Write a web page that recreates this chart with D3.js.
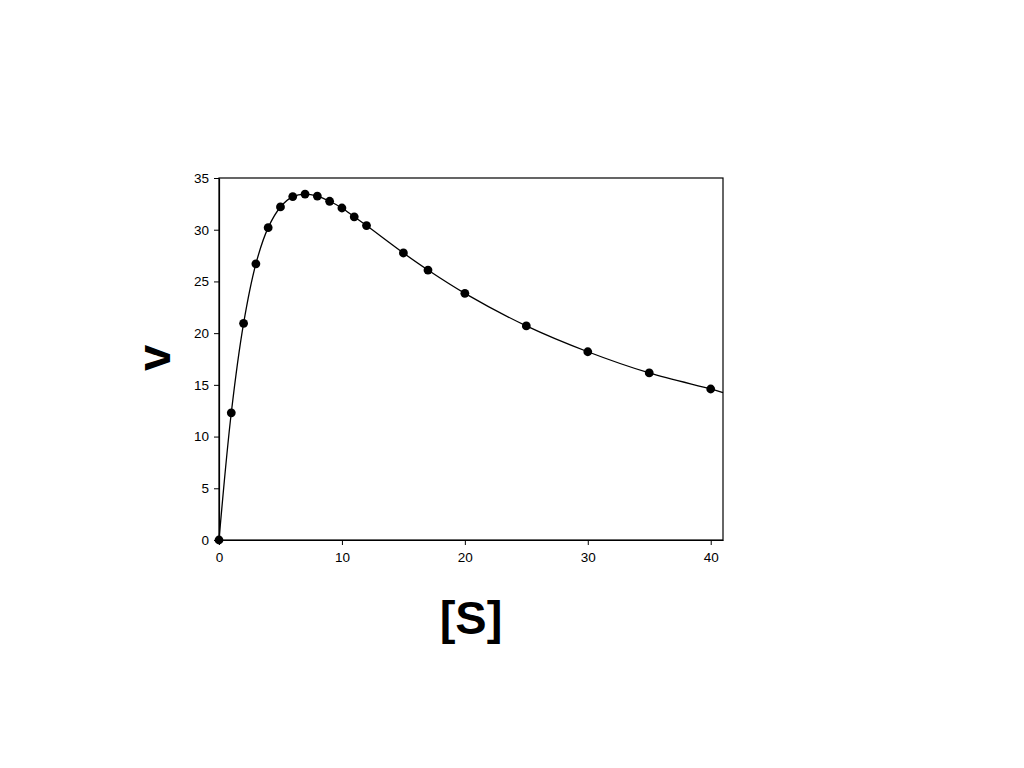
<!DOCTYPE html>
<html><head><meta charset="utf-8">
<script src="https://cdn.jsdelivr.net/npm/d3@7"></script>
<style>body{margin:0;background:#fff;} svg{display:block;}</style>
</head><body>
<svg id="chart" width="1024" height="768"></svg>
<script>
const substrate = [0,1,2,3,4,5,6,7,8,9,10,11,12,15,17,20,25,30,35,40];
const velocity  = [0,12.3,20.95,26.7,30.2,32.2,33.2,33.45,33.25,32.75,32.1,31.25,30.4,27.75,26.1,23.85,20.7,18.2,16.15,14.6];
// fitted curve continues to the right edge of the plot
const fitExtraX = [41];
const fitExtraY = [14.25];
const xTicks = [0,10,20,30,40];
const yTicks = [0,5,10,15,20,25,30,35];
const xTitle = "[S]";
const yTitle = "v";

const svg = d3.select("#chart");
const L = 219, R = 723, T = 178, B = 540;
const x = d3.scaleLinear().domain([0,41]).range([L,R]);
const y = d3.scaleLinear().domain([0,35]).range([B,T]);

const font = "'Liberation Sans', Arial, sans-serif";

// frame
svg.append("rect").attr("x",L).attr("y",T).attr("width",R-L).attr("height",B-T)
  .attr("fill","none").attr("stroke","#000").attr("stroke-width",1.2);

const xAxis = svg.append("g").attr("transform",`translate(0,${B})`)
  .call(d3.axisBottom(x).tickValues(xTicks).tickSize(5).tickSizeOuter(0).tickPadding(7));
const yAxis = svg.append("g").attr("transform",`translate(${L},0)`)
  .call(d3.axisLeft(y).tickValues(yTicks).tickSize(5).tickSizeOuter(0).tickPadding(5));
[xAxis,yAxis].forEach(g=>{
  g.attr("font-size",null).attr("font-family",null);
  g.select(".domain").attr("stroke","#000").attr("stroke-width",1.2);
  g.selectAll(".tick line").attr("stroke","#000").attr("stroke-width",1);
  g.selectAll("text").style("font-family",font).style("font-size","13.5px").attr("fill","#000");
});

// curve
const curvePts = substrate.map((s,i)=>[s,velocity[i]])
  .concat(fitExtraX.map((s,i)=>[s,fitExtraY[i]]));
svg.append("path").datum(curvePts)
  .attr("d", d3.line().x(d=>x(d[0])).y(d=>y(d[1])).curve(d3.curveCatmullRom.alpha(0.5)))
  .attr("fill","none").attr("stroke","#000").attr("stroke-width",1.3);

// points
svg.selectAll("circle.pt").data(substrate).enter().append("circle")
  .attr("class","pt").attr("cx",d=>x(d)).attr("cy",(d,i)=>y(velocity[i]))
  .attr("r",4.4).attr("fill","#000");

// titles
svg.append("text").attr("x",471).attr("y",634).attr("text-anchor","middle")
  .attr("font-family",font).attr("font-weight","bold").attr("font-size",47).text(xTitle);
svg.append("text").attr("transform","translate(170,358) rotate(-90)").attr("text-anchor","middle")
  .attr("font-family",font).attr("font-weight","bold").attr("font-size",47).text(yTitle);
</script>
</body></html>
